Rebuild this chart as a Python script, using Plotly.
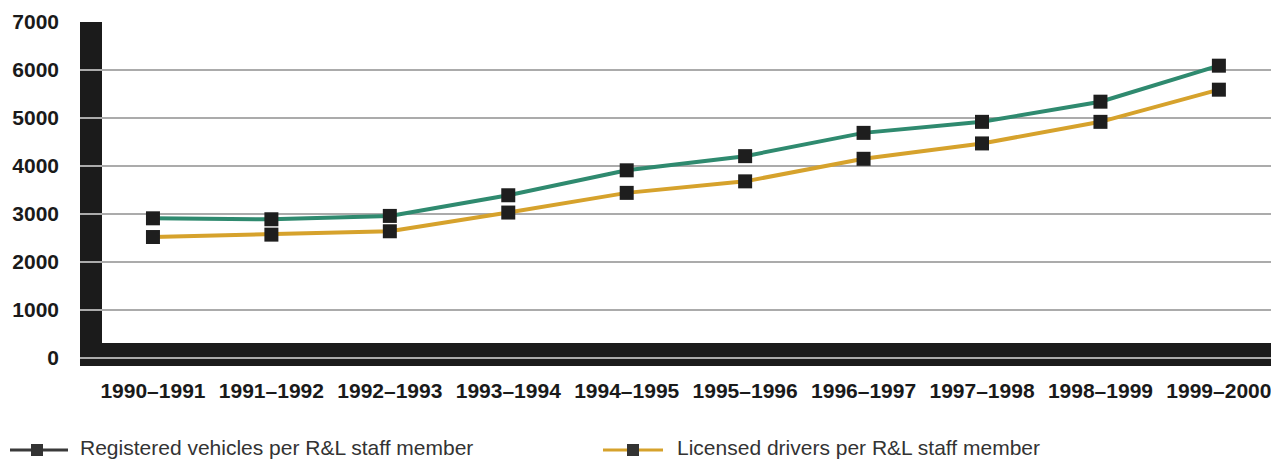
import plotly.graph_objects as go

# Fiscal years on the category axis
years = ["1990–1991", "1991–1992", "1992–1993", "1993–1994", "1994–1995",
         "1995–1996", "1996–1997", "1997–1998", "1998–1999", "1999–2000"]

# Workload per Registration & Licensing staff member
vehicles_per_staff = [2910, 2890, 2960, 3390, 3910, 4205, 4690, 4920, 5340, 6090]
drivers_per_staff = [2520, 2570, 2640, 3030, 3440, 3680, 4150, 4470, 4920, 5590]

series_names = ["Registered vehicles per R&L staff member",
                "Licensed drivers per R&L staff member"]

y_ticks = [0, 1000, 2000, 3000, 4000, 5000, 6000, 7000]

GREEN = "#2f8a6f"
GOLD = "#d6a22c"
MARK = "#1e1e1e"
SLAB = "#1b1b1b"

W, H = 1271, 462
ML, MR, MT, MB = 80, 0, 22, 96
PW = W - ML - MR
PH = H - MT - MB


def px_x(px):
    """Page pixel column -> paper x."""
    return (px - ML) / PW


def px_y(py):
    """Page pixel row -> paper y."""
    return (H - MB - py) / PH


fig = go.Figure()

for vals, color in ((vehicles_per_staff, GREEN), (drivers_per_staff, GOLD)):
    fig.add_trace(go.Scatter(
        x=years, y=vals, mode="lines+markers",
        line=dict(color=color, width=4),
        marker=dict(symbol="square", size=14, color=MARK),
        showlegend=False,
    ))

shapes = [
    # floor slab
    dict(type="rect", xref="paper", yref="y", x0=0, x1=1, y0=-167, y1=312,
         fillcolor=SLAB, line=dict(width=0), layer="between"),
    # back wall on the left
    dict(type="rect", xref="paper", yref="y", x0=0, x1=px_x(102), y0=-167, y1=7000,
         fillcolor=SLAB, line=dict(width=0), layer="between"),
]

# hand-placed legend keys below the axis labels
legend_keys = [
    (series_names[0], "#3a3a3a", 10, 68, 37, 78),
    (series_names[1], GOLD, 603, 663, 633, 675),
]
annotations = []
ly = 450
for name, lcolor, lx0, lx1, mx, tx in legend_keys:
    shapes.append(dict(type="line", xref="paper", yref="paper",
                       x0=px_x(lx0), x1=px_x(lx1), y0=px_y(ly), y1=px_y(ly),
                       line=dict(color=lcolor, width=3)))
    shapes.append(dict(type="rect", xref="paper", yref="paper",
                       x0=px_x(mx - 6), x1=px_x(mx + 6),
                       y0=px_y(ly + 6), y1=px_y(ly - 6),
                       fillcolor="#333333", line=dict(width=0)))
    annotations.append(dict(xref="paper", yref="paper", x=px_x(tx), y=px_y(461),
                            xanchor="left", yanchor="bottom", showarrow=False,
                            text=name,
                            font=dict(family="Liberation Sans, Arial, sans-serif",
                                      size=21, color="#333333")))

fig.update_layout(
    width=W, height=H,
    margin=dict(l=ML, r=MR, t=MT, b=MB),
    paper_bgcolor="white", plot_bgcolor="white",
    shapes=shapes, annotations=annotations,
    showlegend=False,
    xaxis=dict(
        type="category", range=[-0.616, 9.44],
        showgrid=False, zeroline=False, showline=False, ticks="",
        ticklabelstandoff=10,
        tickfont=dict(family="Liberation Sans, Arial, sans-serif",
                      size=21, color="#1a1a1a", weight="bold"),
    ),
    yaxis=dict(
        range=[-167, 7000], tickvals=y_ticks,
        showgrid=True, gridcolor="#ababab", gridwidth=1.5,
        zeroline=False, showline=False, ticks="",
        ticklabelstandoff=20,
        tickfont=dict(family="Liberation Sans, Arial, sans-serif",
                      size=21, color="#1a1a1a", weight="bold"),
    ),
)

fig.write_html("out.html")
